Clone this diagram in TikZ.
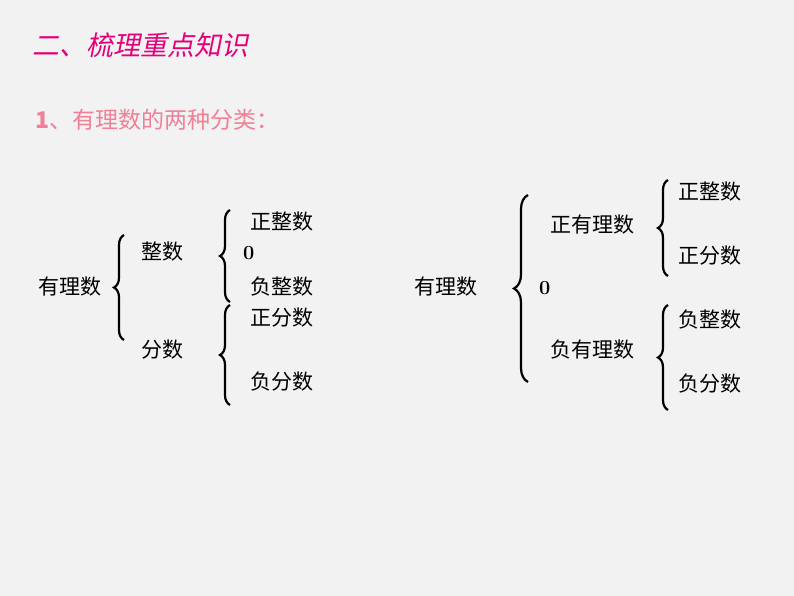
\documentclass[tikz,border=0pt]{standalone}
\usepackage{fontspec}
\newfontfamily\cjk{Noto Sans CJK SC}
\newfontfamily\cjksl[FakeSlant=0.2]{Noto Sans CJK SC}
\usetikzlibrary{decorations.pathreplacing}
\definecolor{bg}{RGB}{242,242,242}
\definecolor{ttl}{RGB}{228,0,120}
\definecolor{sub}{RGB}{240,128,150}
\tikzset{t/.style={font=\cjk\fontsize{21}{21}\selectfont,inner sep=0pt},
 zero/.style={font=\normalfont\bfseries\fontsize{20}{20}\selectfont,inner sep=0pt,anchor=west},
 br/.style={decorate,decoration={brace,amplitude=10pt},line width=2.2pt}}
\begin{document}
\begin{tikzpicture}[x=1pt,y=-1pt]
\fill[bg] (0,0) rectangle (794,596);
\node[t,font=\cjksl\fontsize{27}{27}\selectfont,text=ttl,anchor=west] (title) at (32,45) {二、梳理重点知识};
\node[t,font=\cjk\fontsize{23}{23}\selectfont,text=sub,anchor=west] (subt) at (35,120) {\textbf{1}、有理数的两种分类：};
% left
\node[t] (a) at (70,287) {有理数};
\node[t] (b1) at (162,252) {整数};
\node[t] (b2) at (162,350) {分数};
\node[t] (c1) at (282,222) {正整数};
\node[zero] (c2) at (243,253) {0};
\node[t] (c3) at (282,287) {负整数};
\node[t] (c4) at (282,318) {正分数};
\node[t] (c5) at (282,382) {负分数};
\draw[br] (124,340) -- (124,235);
\draw[br] (230,302) -- (230,210);
\draw[br] (230,405) -- (230,305);
% right
\node[t] (d) at (446,287) {有理数};
\node[t] (e1) at (592,225) {正有理数};
\node[zero] (e2) at (539,288) {0};
\node[t] (e3) at (592,350) {负有理数};
\node[t] (f1) at (710,192) {正整数};
\node[t] (f2) at (710,256) {正分数};
\node[t] (f3) at (710,320) {负整数};
\node[t] (f4) at (710,384) {负分数};
\draw[br,decoration={amplitude=14pt}] (528,382) -- (528,195);
\draw[br] (668,276) -- (668,180);
\draw[br] (668,410) -- (668,305);
\end{tikzpicture}
\end{document}
